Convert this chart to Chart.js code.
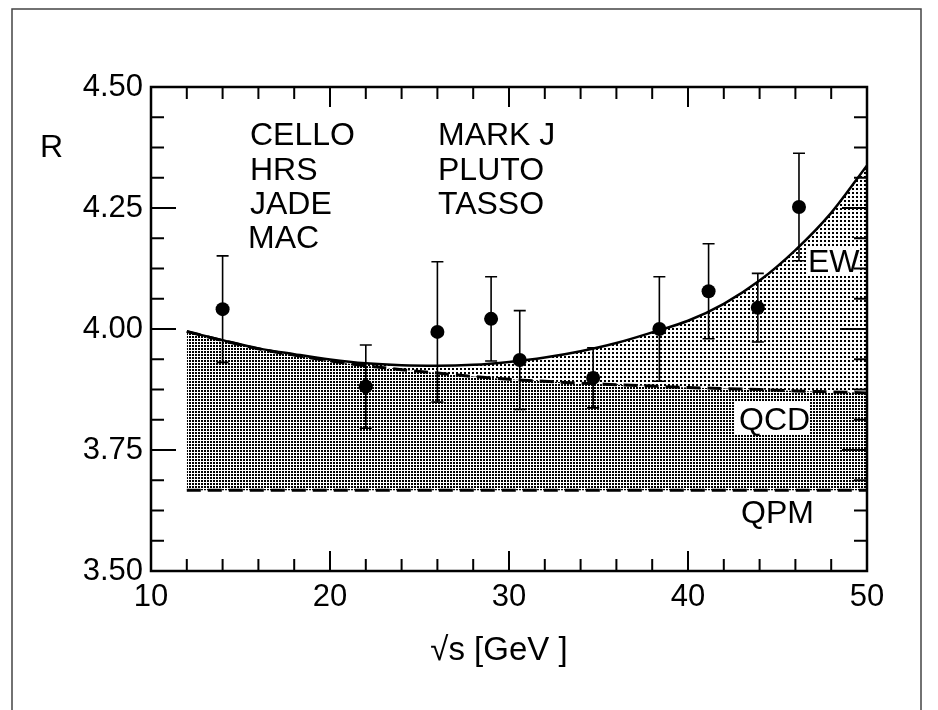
<!DOCTYPE html>
<html>
<head>
<meta charset="utf-8">
<script src="https://cdn.jsdelivr.net/npm/chart.js@4.4.1/dist/chart.umd.min.js"></script>
<style>
  html, body { margin: 0; padding: 0; background: #fff; }
  canvas { display: block; }
</style>
</head>
<body>
<canvas id="grafik" width="938" height="710"></canvas>
<script>
// measured points
const energy = [14.0, 22.0, 26.0, 29.0, 30.6, 34.7, 38.4, 41.15, 43.9, 46.2];
const rValue = [4.041, 3.881, 3.994, 4.021, 3.936, 3.899, 4.000, 4.078, 4.044, 4.252];
const rError = [0.110, 0.086, 0.145, 0.087, 0.102, 0.062, 0.108, 0.098, 0.071, 0.111];

// theory curves
const curveX = [12, 14, 16, 18, 20, 22, 24, 26, 28, 30, 32, 34, 36, 38, 40, 42, 44, 46, 48, 50];
const ewR = [3.995, 3.977, 3.960, 3.948, 3.937, 3.929, 3.925, 3.924, 3.926, 3.932,
             3.941, 3.954, 3.971, 3.993, 4.017, 4.052, 4.100, 4.163, 4.240, 4.338];
const qcdR = [3.995, 3.976, 3.959, 3.946, 3.934, 3.924, 3.916, 3.909, 3.902, 3.896,
              3.892, 3.888, 3.885, 3.882, 3.879, 3.877, 3.875, 3.872, 3.870, 3.868];
const qpmX = [12, 50];
const qpmR = [3.667, 3.667];

const xTickValues = [10, 20, 30, 40, 50];
const xTickLabels = ["10", "20", "30", "40", "50"];
const yTickValues = [3.5, 3.75, 4.0, 4.25, 4.5];
const yTickLabels = ["3.50", "3.75", "4.00", "4.25", "4.50"];

const groupLeft = ["CELLO", "HRS", "JADE", "MAC"];
const groupRight = ["MARK J", "PLUTO", "TASSO"];

const textFont = "'Liberation Sans', 'DejaVu Sans', sans-serif";
const numFont = "'Liberation Sans', sans-serif";

function makePattern(size, cells) {
  const c = document.createElement("canvas");
  c.width = size;
  c.height = size;
  const g = c.getContext("2d");
  g.fillStyle = "#000";
  cells.forEach(([x, y, w, h]) => g.fillRect(x, y, w, h));
  return g.createPattern(c, "repeat");
}

const darkDots = makePattern(3, [[0, 0, 2, 2]]);
const lightDots = makePattern(4, [[0, 0, 2, 2]]);

function toXY(xs, ys) {
  return xs.map((x, i) => ({ x: x, y: ys[i] }));
}

const decorPlugin = {
  id: "decor",
  beforeDraw(chart) {
    const ctx = chart.ctx;
    ctx.save();
    ctx.fillStyle = "#fff";
    ctx.fillRect(0, 0, chart.width, chart.height);
    // outer frame of the figure
    ctx.strokeStyle = "#444";
    ctx.lineWidth = 1.5;
    ctx.beginPath();
    ctx.moveTo(12, 712);
    ctx.lineTo(12, 9);
    ctx.lineTo(921, 9);
    ctx.lineTo(921, 712);
    ctx.stroke();
    ctx.restore();
  },
  afterDatasetsDraw(chart) {
    const ctx = chart.ctx;
    const xs = chart.scales.x;
    const ys = chart.scales.y;
    const area = chart.chartArea;
    ctx.save();

    // error bars
    ctx.strokeStyle = "#000";
    ctx.lineWidth = 1.6;
    energy.forEach((e, i) => {
      const px = xs.getPixelForValue(e);
      const top = ys.getPixelForValue(rValue[i] + rError[i]);
      const bot = ys.getPixelForValue(rValue[i] - rError[i]);
      ctx.beginPath();
      ctx.moveTo(px, top);
      ctx.lineTo(px, bot);
      ctx.moveTo(px - 6, top);
      ctx.lineTo(px + 6, top);
      ctx.moveTo(px - 6, bot);
      ctx.lineTo(px + 6, bot);
      ctx.stroke();
    });

    // white backing behind curve labels
    ctx.fillStyle = "#fff";
    ctx.fillRect(806, 246, 52, 30);
    ctx.fillRect(735, 402, 75, 32);

    // axis box
    ctx.lineWidth = 2.5;
    ctx.strokeRect(area.left, area.top, area.right - area.left, area.bottom - area.top);

    // inward ticks
    ctx.lineWidth = 2;
    ctx.beginPath();
    for (let v = 12; v < 50; v += 2) {
      const px = xs.getPixelForValue(v);
      const len = v % 10 === 0 ? 20 : 12;
      ctx.moveTo(px, area.bottom);
      ctx.lineTo(px, area.bottom - len);
      ctx.moveTo(px, area.top);
      ctx.lineTo(px, area.top + len);
    }
    for (let k = 1; k < 16; k++) {
      const py = ys.getPixelForValue(3.5 + k * 0.0625);
      const len = k % 4 === 0 ? 25 : 13;
      ctx.moveTo(area.left, py);
      ctx.lineTo(area.left + len, py);
      ctx.moveTo(area.right, py);
      ctx.lineTo(area.right - len, py);
    }
    ctx.stroke();

    // texts
    ctx.fillStyle = "#000";
    ctx.font = "32px " + textFont;
    ctx.textAlign = "left";
    ctx.textBaseline = "alphabetic";
    const lines = [145, 180, 214, 248];
    groupLeft.forEach((t, i) => ctx.fillText(t, i === 3 ? 248 : 250, lines[i]));
    groupRight.forEach((t, i) => ctx.fillText(t, 438, lines[i]));
    ctx.fillText("EW", 808, 272);
    ctx.fillText("QCD", 739, 430);
    ctx.fillText("QPM", 741, 523);
    ctx.fillText("R", 40, 157);

    ctx.textAlign = "center";
    ctx.font = "33px " + textFont;
    ctx.fillText("\u221As [GeV ]", 499, 660);
    ctx.restore();
  }
};

const canvas = document.getElementById("grafik");

new Chart(canvas, {
  type: "line",
  data: {
    datasets: [
      {
        label: "data",
        data: toXY(energy, rValue),
        showLine: false,
        pointRadius: 7,
        pointBackgroundColor: "#000",
        pointBorderWidth: 0,
        fill: false
      },
      {
        label: "EW",
        data: toXY(curveX, ewR),
        borderColor: "#000",
        borderWidth: 2.5,
        cubicInterpolationMode: "monotone",
        pointRadius: 0,
        backgroundColor: lightDots,
        fill: "+1"
      },
      {
        label: "QCD",
        data: toXY(curveX, qcdR),
        borderColor: "#000",
        borderWidth: 3,
        borderDash: [14, 7],
        cubicInterpolationMode: "monotone",
        pointRadius: 0,
        backgroundColor: darkDots,
        fill: { value: qpmR[0] }
      },
      {
        label: "QPM",
        data: toXY(qpmX, qpmR),
        borderColor: "#000",
        borderWidth: 3,
        borderDash: [14, 7],
        pointRadius: 0,
        fill: false
      }
    ]
  },
  options: {
    responsive: false,
    animation: false,
    layout: {
      padding: { left: 0, right: 71, top: 87, bottom: 49 }
    },
    plugins: {
      legend: { display: false },
      tooltip: { enabled: false },
      filler: { drawTime: "beforeDatasetsDraw" }
    },
    scales: {
      x: {
        type: "linear",
        min: 10,
        max: 50,
        afterFit: (scale) => { scale.height = 90; },
        afterBuildTicks: (scale) => {
          scale.ticks = xTickValues.map((v) => ({ value: v }));
        },
        ticks: {
          color: "#000",
          padding: 8,
          maxRotation: 0,
          autoSkip: false,
          font: { family: numFont, size: 31 },
          callback: (v) => xTickLabels[xTickValues.indexOf(v)]
        },
        grid: { display: false, drawTicks: false },
        border: { display: false }
      },
      y: {
        min: 3.5,
        max: 4.5,
        afterFit: (scale) => { scale.width = 151; },
        afterBuildTicks: (scale) => {
          scale.ticks = yTickValues.map((v) => ({ value: v }));
        },
        ticks: {
          color: "#000",
          padding: 8,
          autoSkip: false,
          font: { family: numFont, size: 31 },
          callback: (v) => yTickLabels[yTickValues.indexOf(v)]
        },
        grid: { display: false, drawTicks: false },
        border: { display: false }
      }
    }
  },
  plugins: [decorPlugin]
});
</script>
</body>
</html>
